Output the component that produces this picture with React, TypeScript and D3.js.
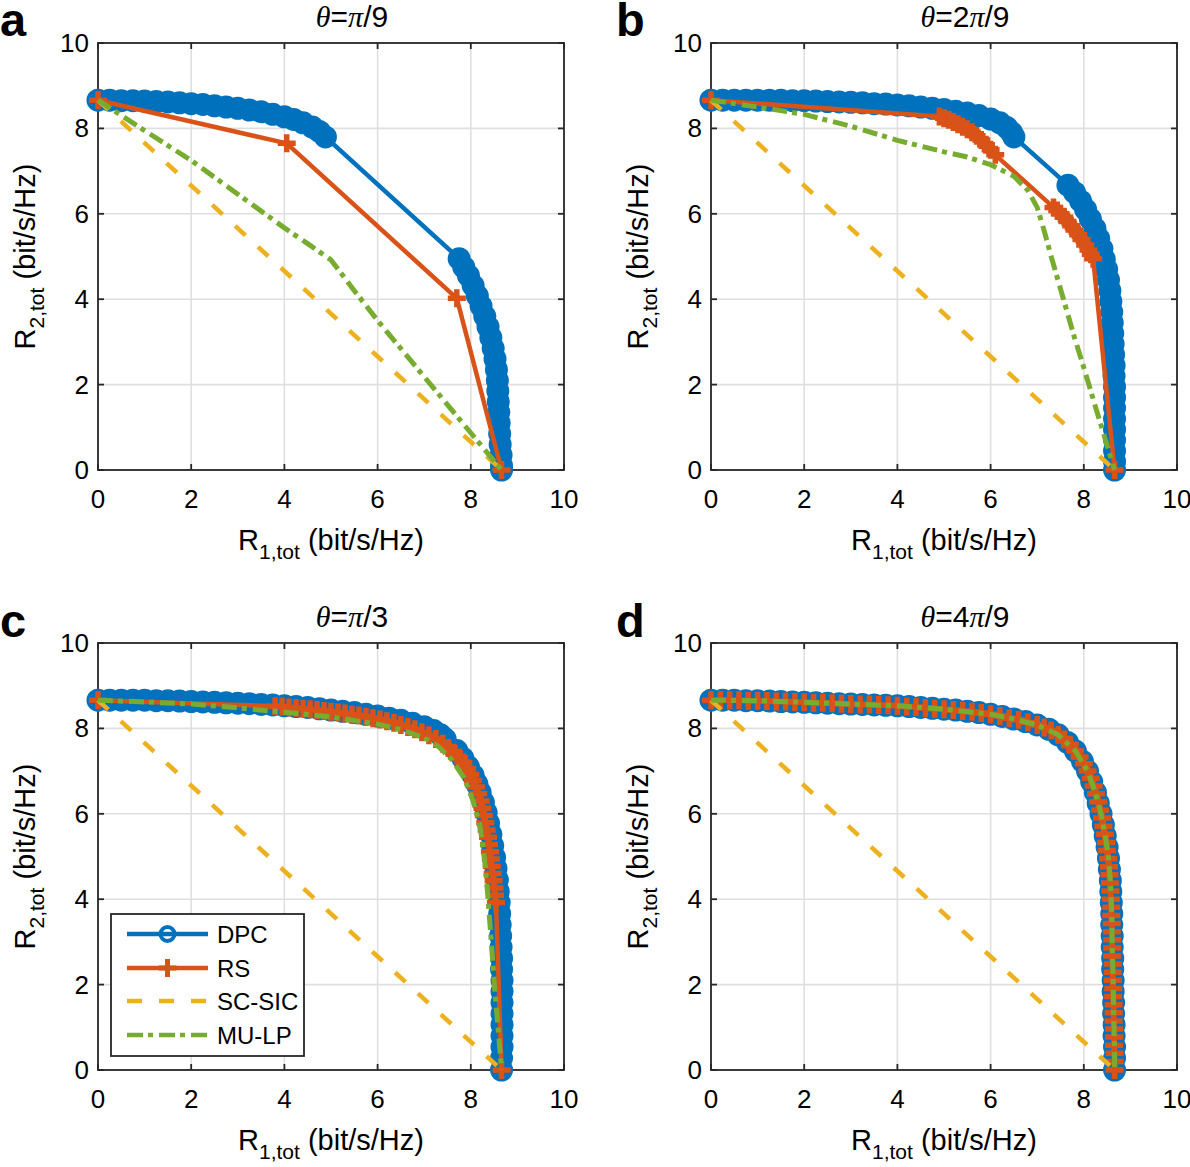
import React from 'react';
import * as d3 from 'd3';

type P = [number, number];

// ---------- data ----------
const xTicks = [0, 2, 4, 6, 8, 10];
const yTicks = [0, 2, 4, 6, 8, 10];
const panelLetters = ['a', 'b', 'c', 'd'];
const titleNumerators = ['', '2', '', '4'];
const titleDenominators = ['9', '9', '3', '9'];
const legendLabels = ['DPC', 'RS', 'SC-SIC', 'MU-LP'];

const scsic: P[] = [[0, 8.66], [8.66, 0]];

// panel a  (theta = pi/9)
const dpcA: P[] = [
  [0, 8.66], [0.25, 8.66], [0.5, 8.65], [0.75, 8.65], [1.0, 8.64], [1.25, 8.63], [1.5, 8.62], [1.75, 8.6],
  [2.0, 8.58], [2.25, 8.56], [2.5, 8.53], [2.75, 8.5], [3.0, 8.47], [3.25, 8.43], [3.5, 8.39], [3.75, 8.33],
  [4.0, 8.27], [4.2, 8.21], [4.4, 8.13], [4.6, 8.03], [4.75, 7.93], [4.88, 7.8],
  [7.75, 4.95], [7.85, 4.75], [7.95, 4.55], [8.05, 4.32], [8.14, 4.08], [8.22, 3.84], [8.3, 3.6], [8.37, 3.35],
  [8.43, 3.1], [8.48, 2.85], [8.52, 2.6], [8.55, 2.35], [8.57, 2.1], [8.58, 1.85], [8.59, 1.6], [8.6, 1.35],
  [8.61, 1.1], [8.62, 0.85], [8.63, 0.6], [8.65, 0.35], [8.66, 0.1], [8.66, 0],
];
const rsA: P[] = [[0, 8.66], [4.05, 7.65], [7.7, 4.02], [8.66, 0]];
const mulpA: P[] = [
  [0, 8.66], [1, 7.95], [2, 7.25], [3, 6.46], [4, 5.67], [4.5, 5.3], [5, 4.92], [5.5, 4.2], [6, 3.5], [8.66, 0],
];

// panel b  (theta = 2pi/9)
const dpcB: P[] = [
  [0, 8.66], [0.25, 8.66], [0.5, 8.66], [0.75, 8.66], [1, 8.66], [1.25, 8.66], [1.5, 8.66], [1.75, 8.65],
  [2, 8.65], [2.25, 8.64], [2.5, 8.63], [2.75, 8.62], [3, 8.61], [3.25, 8.6], [3.5, 8.58], [3.75, 8.57],
  [4, 8.55], [4.25, 8.53], [4.5, 8.5], [4.75, 8.47], [5, 8.44], [5.25, 8.4], [5.5, 8.36], [5.75, 8.3],
  [6, 8.22], [6.2, 8.13], [6.35, 8.02], [6.45, 7.9], [6.5, 7.8],
  [7.66, 6.67], [7.8, 6.5], [7.93, 6.3], [8.04, 6.1], [8.14, 5.88], [8.24, 5.65], [8.32, 5.42], [8.39, 5.18],
  [8.44, 4.94], [8.49, 4.7], [8.53, 4.45], [8.56, 4.2], [8.58, 3.95], [8.6, 3.7], [8.61, 3.45], [8.62, 3.2],
  [8.63, 2.95], [8.64, 2.7], [8.65, 2.45], [8.65, 2.2], [8.66, 1.95], [8.66, 1.7], [8.66, 1.45], [8.66, 1.2],
  [8.66, 0.95], [8.66, 0.7], [8.66, 0.45], [8.66, 0.2], [8.66, 0],
];
const rsB: P[] = [
  [0, 8.66], [4.9, 8.28], [5.0, 8.24], [5.1, 8.2], [5.2, 8.15], [5.3, 8.1], [5.4, 8.04], [5.5, 7.98],
  [5.6, 7.91], [5.7, 7.83], [5.8, 7.73], [5.9, 7.62], [6.0, 7.5], [6.1, 7.38],
  [7.35, 6.15], [7.43, 6.08], [7.5, 6.0], [7.58, 5.92], [7.65, 5.82], [7.73, 5.72], [7.8, 5.62], [7.88, 5.51],
  [7.95, 5.4], [8.03, 5.27], [8.1, 5.15], [8.15, 5.05], [8.2, 4.95], [8.66, 0],
];
const mulpB: P[] = [
  [0, 8.66], [1, 8.5], [2, 8.33], [3, 8.05], [4, 7.72], [5, 7.45], [5.5, 7.33], [6, 7.15], [6.5, 6.88],
  [6.8, 6.55], [7.0, 6.15], [7.15, 5.6], [7.3, 5.0], [7.55, 4.05], [7.8, 3.1], [8.0, 2.4], [8.3, 1.3], [8.66, 0],
];

// panel c  (theta = pi/3)
const dpcC: P[] = [
  [0, 8.66], [0.25, 8.66], [0.5, 8.66], [0.75, 8.66], [1, 8.66], [1.25, 8.65], [1.5, 8.65], [1.75, 8.64],
  [2, 8.63], [2.25, 8.62], [2.5, 8.61], [2.75, 8.6], [3, 8.59], [3.25, 8.58], [3.5, 8.56], [3.75, 8.55],
  [4, 8.53], [4.25, 8.51], [4.5, 8.49], [4.75, 8.46], [5, 8.43], [5.25, 8.4], [5.5, 8.37], [5.75, 8.33],
  [6, 8.29], [6.25, 8.24], [6.5, 8.19], [6.75, 8.12], [7, 8.04], [7.2, 7.95], [7.35, 7.85], [7.45, 7.75],
  [7.7, 7.48], [7.83, 7.3], [7.95, 7.1], [8.05, 6.9], [8.13, 6.7], [8.2, 6.5], [8.27, 6.27], [8.33, 6.03],
  [8.38, 5.78], [8.43, 5.52], [8.47, 5.25], [8.51, 4.98], [8.54, 4.72], [8.57, 4.45], [8.59, 4.18], [8.61, 3.92],
  [8.62, 3.66], [8.63, 3.4], [8.64, 3.14], [8.65, 2.88], [8.66, 2.62], [8.66, 2.36], [8.67, 2.1], [8.67, 1.84],
  [8.67, 1.58], [8.67, 1.32], [8.67, 1.06], [8.67, 0.8], [8.67, 0.54], [8.66, 0.28], [8.66, 0],
];
const rsC: P[] = [
  [0, 8.66], [3.8, 8.52], [3.95, 8.51], [4.1, 8.49], [4.25, 8.48], [4.4, 8.46], [4.55, 8.45], [4.7, 8.43],
  [4.85, 8.41], [5.0, 8.39], [5.15, 8.37], [5.3, 8.35], [5.45, 8.32], [5.6, 8.3], [5.75, 8.27], [5.9, 8.24],
  [6.05, 8.21], [6.2, 8.17], [6.35, 8.13], [6.5, 8.08], [6.65, 8.03], [6.8, 7.98], [6.95, 7.91], [7.1, 7.84],
  [7.25, 7.75], [7.4, 7.64], [7.52, 7.54], [7.64, 7.43], [7.75, 7.32], [7.84, 7.2], [7.92, 7.06], [7.99, 6.92],
  [8.05, 6.78], [8.11, 6.63], [8.16, 6.47], [8.21, 6.3], [8.25, 6.13], [8.28, 5.96], [8.31, 5.79], [8.34, 5.62],
  [8.37, 5.45], [8.39, 5.28], [8.41, 5.11], [8.43, 4.94], [8.45, 4.77], [8.47, 4.6], [8.49, 4.43], [8.51, 4.26],
  [8.52, 4.09], [8.54, 3.92], [8.66, 0],
];
const mulpC: P[] = [
  [0, 8.66], [1, 8.62], [2, 8.57], [3, 8.48], [4, 8.38], [5, 8.27], [6, 8.1], [6.5, 7.97], [7, 7.78],
  [7.3, 7.58], [7.6, 7.26], [7.85, 6.85], [8.05, 6.3], [8.2, 5.7], [8.3, 4.9], [8.36, 4.15], [8.44, 3.0],
  [8.52, 1.8], [8.6, 0.8], [8.66, 0],
];

// panel d  (theta = 4pi/9)
const dpcD: P[] = [
  [0, 8.66], [0.25, 8.66], [0.5, 8.66], [0.75, 8.65], [1, 8.65], [1.25, 8.64], [1.5, 8.63], [1.75, 8.62],
  [2, 8.61], [2.25, 8.6], [2.5, 8.59], [2.75, 8.58], [3, 8.57], [3.25, 8.56], [3.5, 8.55], [3.75, 8.54],
  [4, 8.53], [4.25, 8.51], [4.5, 8.49], [4.75, 8.47], [5, 8.45], [5.25, 8.43], [5.5, 8.4], [5.75, 8.37],
  [6, 8.33], [6.25, 8.28], [6.5, 8.22], [6.75, 8.16], [7, 8.08], [7.25, 7.98], [7.45, 7.85], [7.65, 7.67],
  [7.82, 7.47], [7.97, 7.23], [8.08, 7.0], [8.17, 6.75], [8.25, 6.5], [8.31, 6.25], [8.37, 6.0], [8.42, 5.74],
  [8.46, 5.48], [8.5, 5.22], [8.53, 4.96], [8.55, 4.7], [8.57, 4.44], [8.58, 4.18], [8.59, 3.92], [8.6, 3.66],
  [8.6, 3.4], [8.61, 3.14], [8.61, 2.88], [8.62, 2.62], [8.62, 2.36], [8.63, 2.1], [8.63, 1.84], [8.64, 1.58],
  [8.64, 1.32], [8.65, 1.06], [8.65, 0.8], [8.66, 0.54], [8.66, 0.28], [8.66, 0],
];
const rsD: P[] = [
  [0, 8.66], [0.2, 8.66], [0.4, 8.66], [0.6, 8.66], [0.8, 8.65], [1.0, 8.65], [1.2, 8.64], [1.4, 8.63],
  [1.6, 8.63], [1.8, 8.62], [2.0, 8.61], [2.2, 8.6], [2.4, 8.6], [2.6, 8.59], [2.8, 8.58], [3.0, 8.57],
  [3.2, 8.56], [3.4, 8.56], [3.6, 8.55], [3.8, 8.54], [4.0, 8.53], [4.2, 8.51], [4.4, 8.5], [4.6, 8.48],
  [4.8, 8.46], [5.0, 8.45], [5.2, 8.43], [5.4, 8.41], [5.6, 8.39], [5.8, 8.36], [6.0, 8.33], [6.2, 8.29],
  [6.4, 8.24], [6.6, 8.2], [6.8, 8.14], [7.0, 8.08], [7.15, 8.02], [7.3, 7.95], [7.45, 7.85], [7.58, 7.74],
  [7.7, 7.62], [7.81, 7.48], [7.91, 7.33], [8.0, 7.17], [8.08, 7.0], [8.15, 6.83], [8.21, 6.65], [8.26, 6.47],
  [8.31, 6.28], [8.35, 6.09], [8.39, 5.9], [8.42, 5.71], [8.45, 5.52], [8.48, 5.33], [8.5, 5.14], [8.52, 4.95],
  [8.54, 4.76], [8.55, 4.57], [8.56, 4.38], [8.57, 4.19], [8.58, 4.0], [8.59, 3.81], [8.59, 3.62], [8.6, 3.43],
  [8.6, 3.24], [8.61, 3.05], [8.61, 2.86], [8.61, 2.67], [8.62, 2.48], [8.62, 2.29], [8.62, 2.1], [8.63, 1.91],
  [8.63, 1.72], [8.64, 1.53], [8.64, 1.34], [8.64, 1.15], [8.65, 0.96], [8.65, 0.77], [8.65, 0.58], [8.66, 0.39],
  [8.66, 0.2], [8.66, 0],
];
const mulpD: P[] = [
  [0, 8.66], [1, 8.65], [2, 8.61], [3, 8.57], [4, 8.53], [5, 8.45], [6, 8.33], [6.5, 8.22], [7, 8.08],
  [7.45, 7.85], [7.82, 7.47], [8.08, 7.0], [8.25, 6.5], [8.37, 6.0], [8.46, 5.48], [8.53, 4.96], [8.57, 4.44],
  [8.6, 3.66], [8.61, 2.88], [8.63, 2.1], [8.64, 1.32], [8.66, 0.54], [8.66, 0],
];

const dpcSeries = [dpcA, dpcB, dpcC, dpcD];
const rsSeries = [rsA, rsB, rsC, rsD];
const mulpSeries = [mulpA, mulpB, mulpC, mulpD];

// ---------- styling / layout ----------
const C_DPC = '#0072BD';
const C_RS = '#D95319';
const C_SC = '#EDB120';
const C_MU = '#77AC30';
const AX = '#262626';
const GRID = '#dfdfdf';
const FONT = '"Liberation Sans", Arial, Helvetica, sans-serif';
const SERIF = '"Liberation Serif", "Times New Roman", serif';

const layouts = [
  { left: 98, right: 564, top: 43, bottom: 470, lx: 0, ly: 36 },
  { left: 711, right: 1177, top: 43, bottom: 470, lx: 616, ly: 36 },
  { left: 98, right: 564, top: 643, bottom: 1070, lx: 0, ly: 637 },
  { left: 711, right: 1177, top: 643, bottom: 1070, lx: 616, ly: 637 },
];

const plusPath = 'M-9,0H9M0,-9V9';

function Panel({ i }: { i: number }) {
  const L = layouts[i];
  const x = d3.scaleLinear().domain([0, 10]).range([L.left, L.right]);
  const y = d3.scaleLinear().domain([0, 10]).range([L.bottom, L.top]);
  const line = d3.line<P>().x((d) => x(d[0])).y((d) => y(d[1]));
  const dpc = dpcSeries[i];
  const rs = rsSeries[i];
  const mu = mulpSeries[i];
  const tickLen = 6;
  const cx = (L.left + L.right) / 2;
  const cy = (L.top + L.bottom) / 2;

  return (
    <g>
      {/* grid */}
      {xTicks.slice(1, -1).map((t) => (
        <line key={'gx' + t} x1={x(t)} x2={x(t)} y1={L.top} y2={L.bottom} stroke={GRID} strokeWidth={1.6} />
      ))}
      {yTicks.slice(1, -1).map((t) => (
        <line key={'gy' + t} x1={L.left} x2={L.right} y1={y(t)} y2={y(t)} stroke={GRID} strokeWidth={1.6} />
      ))}
      {/* box */}
      <rect x={L.left} y={L.top} width={L.right - L.left} height={L.bottom - L.top} fill="none" stroke={AX} strokeWidth={1.8} />
      {/* ticks */}
      {xTicks.map((t) => (
        <g key={'tx' + t}>
          <line x1={x(t)} x2={x(t)} y1={L.bottom} y2={L.bottom - tickLen} stroke={AX} strokeWidth={1.8} />
          <line x1={x(t)} x2={x(t)} y1={L.top} y2={L.top + tickLen} stroke={AX} strokeWidth={1.8} />
          <text x={x(t)} y={L.bottom + 38} textAnchor="middle" fontSize={26} fontFamily={FONT} fill="#000">{t}</text>
        </g>
      ))}
      {yTicks.map((t) => (
        <g key={'ty' + t}>
          <line x1={L.left} x2={L.left + tickLen} y1={y(t)} y2={y(t)} stroke={AX} strokeWidth={1.8} />
          <line x1={L.right} x2={L.right - tickLen} y1={y(t)} y2={y(t)} stroke={AX} strokeWidth={1.8} />
          <text x={L.left - 9} y={y(t) + 9} textAnchor="end" fontSize={26} fontFamily={FONT} fill="#000">{t}</text>
        </g>
      ))}
      {/* axis labels */}
      <text x={cx} y={L.bottom + 80} textAnchor="middle" fontSize={29} fontFamily={FONT} fill="#000">
        R<tspan fontSize={21} dy={9}>1,tot</tspan><tspan dy={-9}> (bit/s/Hz)</tspan>
      </text>
      <text transform={`translate(${L.left - 63},${cy}) rotate(-90)`} textAnchor="middle" fontSize={29} fontFamily={FONT} fill="#000">
        R<tspan fontSize={21} dy={9}>2,tot</tspan><tspan dy={-9}> (bit/s/Hz)</tspan>
      </text>
      {/* title */}
      <text x={cx + 21} y={L.top - 16} textAnchor="middle" fontSize={30} fontFamily={FONT} fill="#000">
        <tspan fontFamily={SERIF} fontStyle="italic">θ</tspan>=
        {titleNumerators[i]}
        <tspan fontFamily={SERIF} fontStyle="italic">π</tspan>/{titleDenominators[i]}
      </text>
      {/* panel letter */}
      <text x={L.lx} y={L.ly} fontSize={47} fontWeight="bold" fontFamily={FONT} fill="#000">{panelLetters[i]}</text>

      {/* DPC */}
      <path d={line(dpc) || ''} fill="none" stroke={C_DPC} strokeWidth={4.5} strokeLinejoin="round" />
      {dpc.map((d, k) => (
        <circle key={'c' + k} cx={x(d[0])} cy={y(d[1])} r={11.5} fill={C_DPC} />
      ))}
      {/* RS */}
      <path d={line(rs) || ''} fill="none" stroke={C_RS} strokeWidth={4.5} strokeLinejoin="round" />
      {rs.map((d, k) => (
        <path key={'p' + k} d={plusPath} transform={`translate(${x(d[0])},${y(d[1])})`} stroke={C_RS} strokeWidth={5.5} fill="none" />
      ))}
      {/* SC-SIC */}
      <path d={line(scsic) || ''} fill="none" stroke={C_SC} strokeWidth={4.5} strokeDasharray="14,17" />
      {/* MU-LP */}
      <path d={line(mu) || ''} fill="none" stroke={C_MU} strokeWidth={5} strokeDasharray="15,5,5,6" strokeLinejoin="round" />

      {i === 2 && <Legend />}
    </g>
  );
}

function Legend() {
  const bx = 111, by = 914, bw = 193, bh = 142;
  const rowY = [934, 968, 1001, 1035];
  const x1 = 127, x2 = 208, mx = (x1 + x2) / 2;
  return (
    <g>
      <rect x={bx} y={by} width={bw} height={bh} fill="#fff" stroke={AX} strokeWidth={1.8} />
      <line x1={x1} x2={x2} y1={rowY[0]} y2={rowY[0]} stroke={C_DPC} strokeWidth={4.5} />
      <circle cx={mx} cy={rowY[0]} r={7} fill="none" stroke={C_DPC} strokeWidth={4} />
      <line x1={x1} x2={x2} y1={rowY[1]} y2={rowY[1]} stroke={C_RS} strokeWidth={4.5} />
      <path d={plusPath} transform={`translate(${mx},${rowY[1]})`} stroke={C_RS} strokeWidth={5} fill="none" />
      <line x1={x1} x2={x2} y1={rowY[2]} y2={rowY[2]} stroke={C_SC} strokeWidth={4.5} strokeDasharray="15,17" />
      <line x1={x1} x2={x2} y1={rowY[3]} y2={rowY[3]} stroke={C_MU} strokeWidth={4.5} strokeDasharray="16,5,5,6" />
      {legendLabels.map((s, k) => (
        <text key={s} x={217} y={rowY[k] + 9} fontSize={24} fontFamily={FONT} fill="#000">{s}</text>
      ))}
    </g>
  );
}

export default function App() {
  return (
    <svg width={1190} height={1167} style={{ position: 'absolute', left: 0, top: 0, background: '#fff' }}>
      <rect x={0} y={0} width={1190} height={1167} fill="#fff" />
      {[0, 1, 2, 3].map((i) => (
        <Panel key={i} i={i} />
      ))}
    </svg>
  );
}
